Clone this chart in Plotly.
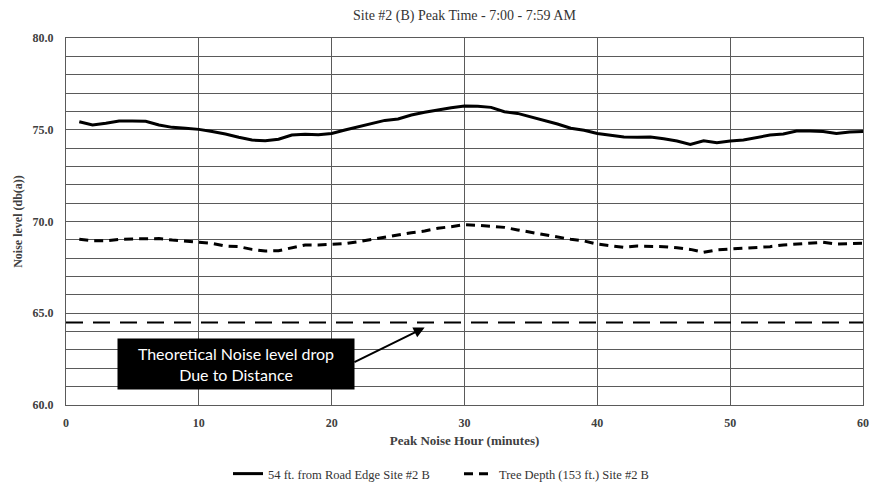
import plotly.graph_objects as go

minutes = list(range(1, 61))
road_edge = [75.44, 75.26, 75.35, 75.48, 75.48, 75.46, 75.26, 75.13, 75.08, 75.02,
             74.90, 74.77, 74.59, 74.44, 74.40, 74.48, 74.71, 74.75, 74.73, 74.80,
             74.99, 75.17, 75.35, 75.51, 75.59, 75.80, 75.95, 76.08, 76.20, 76.29,
             76.28, 76.22, 75.98, 75.89, 75.71, 75.53, 75.31, 75.08, 74.97, 74.80,
             74.69, 74.60, 74.59, 74.60, 74.51, 74.39, 74.20, 74.40, 74.29, 74.39,
             74.44, 74.57, 74.71, 74.77, 74.93, 74.93, 74.91, 74.80, 74.88, 74.90]
tree_depth = [69.03, 68.95, 68.95, 69.03, 69.05, 69.08, 69.07, 68.99, 68.92, 68.85,
              68.81, 68.66, 68.63, 68.48, 68.39, 68.41, 68.57, 68.72, 68.72, 68.76,
              68.79, 68.90, 69.03, 69.17, 69.30, 69.39, 69.48, 69.63, 69.72, 69.83,
              69.79, 69.72, 69.68, 69.54, 69.41, 69.28, 69.14, 69.03, 68.94, 68.77,
              68.68, 68.59, 68.66, 68.66, 68.63, 68.57, 68.48, 68.32, 68.45, 68.50,
              68.54, 68.57, 68.63, 68.72, 68.77, 68.85, 68.87, 68.77, 68.79, 68.81]
theory_x = [0, 60]
theory_y = [64.5, 64.5]

series_names = ["54 ft. from Road Edge Site #2 B", "Tree Depth (153 ft.) Site #2 B"]
title_text = "Site #2 (B) Peak Time - 7:00 - 7:59 AM"
x_title = "Peak Noise Hour (minutes)"
y_title = "Noise level (db(a))"
box_text = "Theoretical Noise level drop<br>Due to Distance"

serif = "Liberation Serif, Times New Roman, serif"
grid = "#5a5a5a"

fig = go.Figure()
fig.add_trace(go.Scatter(x=minutes, y=road_edge, mode="lines", name=series_names[0],
                         line=dict(color="black", width=3)))
fig.add_trace(go.Scatter(x=minutes, y=tree_depth, mode="lines", name=series_names[1],
                         line=dict(color="black", width=3, dash="9px,6px")))
fig.add_trace(go.Scatter(x=theory_x, y=theory_y, mode="lines", showlegend=False,
                         line=dict(color="black", width=2, dash="17px,10px")))

# arrow
fig.add_annotation(x=27.0, y=64.22, ax=21.6, ay=62.3, xref="x", yref="y", axref="x", ayref="y",
                   text="", showarrow=True, arrowhead=2, arrowsize=1.1, arrowwidth=2, arrowcolor="black")
# black text box
fig.add_annotation(x=12.8, y=62.25, xref="x", yref="y", text=box_text, showarrow=False,
                   bgcolor="black", font=dict(color="white", size=16, family="Lato, Carlito, sans-serif"),
                   borderpad=4, width=228, height=42, align="center")

fig.update_layout(
    width=874, height=486,
    margin=dict(l=66, r=11, t=38, b=81, autoexpand=False),
    paper_bgcolor="white", plot_bgcolor="white",
    title=dict(text=title_text, x=0.5, xref="paper", xanchor="center", y=1 - 15 / 486, yanchor="middle",
               font=dict(family=serif, size=14, color="#333333")),
    showlegend=True,
    legend=dict(orientation="h", xref="container", yref="container", x=228 / 874, xanchor="left",
                y=12 / 486, yanchor="middle", font=dict(family=serif, size=12.5, color="#333333"),
                itemwidth=30, tracegroupgap=0, entrywidth=186, entrywidthmode="pixels"),
    xaxis=dict(range=[0, 60], dtick=10, tick0=0, showgrid=True, gridcolor=grid, gridwidth=1,
               showline=True, linecolor=grid, linewidth=1, mirror=True, zeroline=False, ticks="",
               automargin=False, ticklabelstandoff=7,
               tickfont=dict(family=serif, size=12, color="#404040", weight="bold"),
               title=dict(text=x_title, standoff=6,
                          font=dict(family=serif, size=13, color="#404040", weight="bold"))),
    yaxis=dict(range=[60, 80], dtick=5, tick0=60, tickformat=".1f", showgrid=True, gridcolor=grid,
               gridwidth=1, showline=True, linecolor=grid, linewidth=1, mirror=True, zeroline=False,
               ticks="", minor=dict(dtick=1, showgrid=True, gridcolor=grid, gridwidth=1),
               automargin=False, ticklabelstandoff=9,
               tickfont=dict(family=serif, size=12, color="#404040", weight="bold"),
               title=dict(text=y_title, standoff=7,
                          font=dict(family=serif, size=12, color="#404040", weight="bold"))),
)

fig.write_html("out.html", config={"displayModeBar": False},
               post_script="document.body.style.margin='0';")
